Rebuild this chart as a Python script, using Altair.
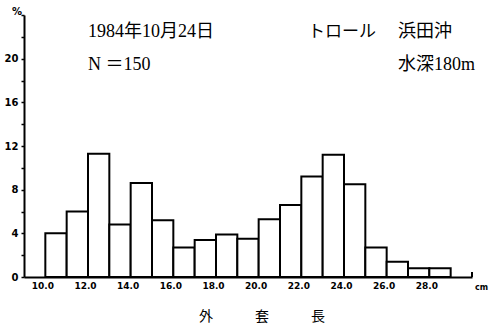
import altair as alt
import pandas as pd

bin_start = [10, 11, 12, 13, 14, 15, 16, 17, 18, 19, 20, 21, 22, 23, 24, 25, 26, 27, 28]
percent = [4.0, 6.0, 11.3, 4.8, 8.6, 5.2, 2.7, 3.4, 3.9, 3.5, 5.3, 6.6, 9.2, 11.2, 8.5, 2.7, 1.4, 0.8, 0.8]
x_ticks = [10, 12, 14, 16, 18, 20, 22, 24, 26, 28]
y_ticks = [0, 2, 4, 6, 8, 10, 12, 14, 16, 18, 20, 22, 24]

df = pd.DataFrame({"start": bin_start,
                   "end": [b + 1 for b in bin_start],
                   "pct": percent})

W, H = 448, 262
serif = "Liberation Serif, Noto Sans CJK JP"

bars = alt.Chart(df).mark_bar(fill="white", stroke="black", strokeWidth=2).encode(
    x=alt.X("start:Q", scale=alt.Scale(domain=[9, 30], nice=False, zero=False),
            axis=alt.Axis(values=x_ticks, format=".1f", title=None, ticks=False,
                          grid=False, labelFont="DejaVu Sans", labelFontWeight="bold",
                          labelFontSize=9, labelColor="black", labelPadding=4,
                          labelOffset=-3, domainColor="black", domainWidth=2)),
    x2="end:Q",
    y=alt.Y("pct:Q", scale=alt.Scale(domain=[0, 24], nice=False),
            axis=alt.Axis(values=y_ticks, title=None, grid=False,
                          labelExpr="datum.value % 4 == 0 && datum.value < 24 ? datum.label : ''",
                          labelFont="DejaVu Sans", labelFontWeight="bold", labelFontSize=10,
                          labelColor="black", tickColor="black", tickSize=3, tickWidth=1.5,
                          labelPadding=3, domainColor="black", domainWidth=2)),
    y2=alt.datum(0),
)

def txt(s, x, y, size=17, font=serif, align="left", weight="normal"):
    return alt.Chart(pd.DataFrame({"t": [s]})).mark_text(
        align=align, baseline="middle", font=font, fontSize=size, color="black",
        fontWeight=weight
    ).encode(text="t:N", x=alt.value(x), y=alt.value(y))

hook = alt.Chart(pd.DataFrame({"a": [0]})).mark_rule(color="black", strokeWidth=2).encode(
    x=alt.value(W), y=alt.value(H), y2=alt.value(H - 5))

layers = [
    bars,
    hook,
    txt("1984年10月24日", 64, 17, size=18),
    txt("N ＝150", 64, 50, size=18),
    txt("トロール", 284, 17),
    txt("浜田沖", 374, 17, size=18),
    txt("水深180m", 374, 50, size=18),
    txt("%", -12, -3, size=10, font="DejaVu Sans", weight="bold"),
    txt("cm", 451, 273, size=8, font="DejaVu Sans", weight="bold"),
    txt("外　　　套　　　長", 238, 302, size=14, font="Noto Sans CJK JP", align="center"),
]

chart = alt.layer(*layers).properties(
    width=W, height=H,
    autosize=alt.AutoSizeParams(type="none"),
    padding={"left": 24, "top": 15, "right": 17, "bottom": 56},
    background="white",
).configure_view(stroke=None)

chart.save("out.html", embed_options={"renderer": "svg", "actions": False})
